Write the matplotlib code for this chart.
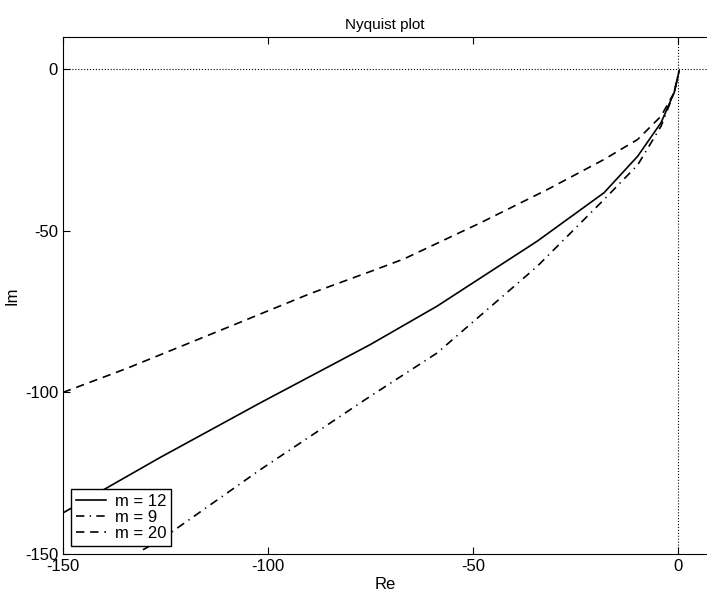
import matplotlib.pyplot as plt
import numpy as np

plt.rcParams['font.family'] = ['Liberation Sans', 'DejaVu Sans']
plt.rcParams['axes.unicode_minus'] = False

# frequency response points (Re, Im)
re_m12 = [-150, -126.4, -102, -75.1, -58.8, -34.4, -18.1, -9.9, -4.2, -1.0, 0.2]
im_m12 = [-137.3, -120.2, -103.3, -85.2, -73.3, -53.2, -38.2, -26.9, -16.5, -7.2, -0.5]

re_m9 = [-130.5, -126.4, -102, -75.1, -58.8, -34.4, -18.1, -9.9, -4.2, -1.0, 0.2]
im_m9 = [-148.7, -145.8, -124.0, -101.2, -87.8, -61.0, -40.3, -29.6, -17.6, -7.2, -0.5]

re_m20 = [-150, -134.5, -110.1, -89.7, -75.1, -66.9, -48.2, -31.9, -18.1, -9.9, -4.2, -1.0, 0.2]
im_m20 = [-100, -92.6, -80.0, -69.4, -62.6, -58.7, -47.5, -37.2, -27.9, -21.7, -14.5, -7.2, -0.5]

labels = ['m = 12', 'm = 9', 'm = 20']
xticks = [-150, -100, -50, 0]
yticks = [-150, -100, -50, 0]

fig = plt.figure(figsize=(7.07, 5.96), dpi=100)
ax = fig.add_axes([0.089, 0.0705, 0.911, 0.8674])

# dotted zero axes
ax.axhline(0, color='black', linestyle=':', linewidth=0.8)
ax.axvline(0, color='black', linestyle=':', linewidth=0.8)

ax.plot(re_m12, im_m12, color='black', linestyle='-', linewidth=1.2, label=labels[0])
ax.plot(re_m9, im_m9, color='black', linestyle=(0, (5, 3.2, 0.8, 3.2)), linewidth=1.2, label=labels[1])
ax.plot(re_m20, im_m20, color='black', linestyle=(0, (5, 3.5)), linewidth=1.2, label=labels[2])

ax.set_xlim(-150, 7)
ax.set_ylim(-150, 10)
ax.set_xticks(xticks)
ax.set_yticks(yticks)
ax.tick_params(direction='in', top=True, right=False, labelsize=12, length=5)
ax.spines['right'].set_visible(False)

ax.set_title('Nyquist plot', fontsize=11)
ax.set_xlabel('Re', fontsize=12, labelpad=2)
ax.set_ylabel('Im', fontsize=12, labelpad=4)

leg = ax.legend(loc='lower left', fontsize=12, handlelength=1.8, handletextpad=0.5,
                labelspacing=0.05, borderpad=0.3, borderaxespad=0.5,
                fancybox=False, framealpha=1)
leg.get_frame().set_edgecolor('black')
leg.get_frame().set_linewidth(1.0)

plt.savefig('out.png', dpi=100)
